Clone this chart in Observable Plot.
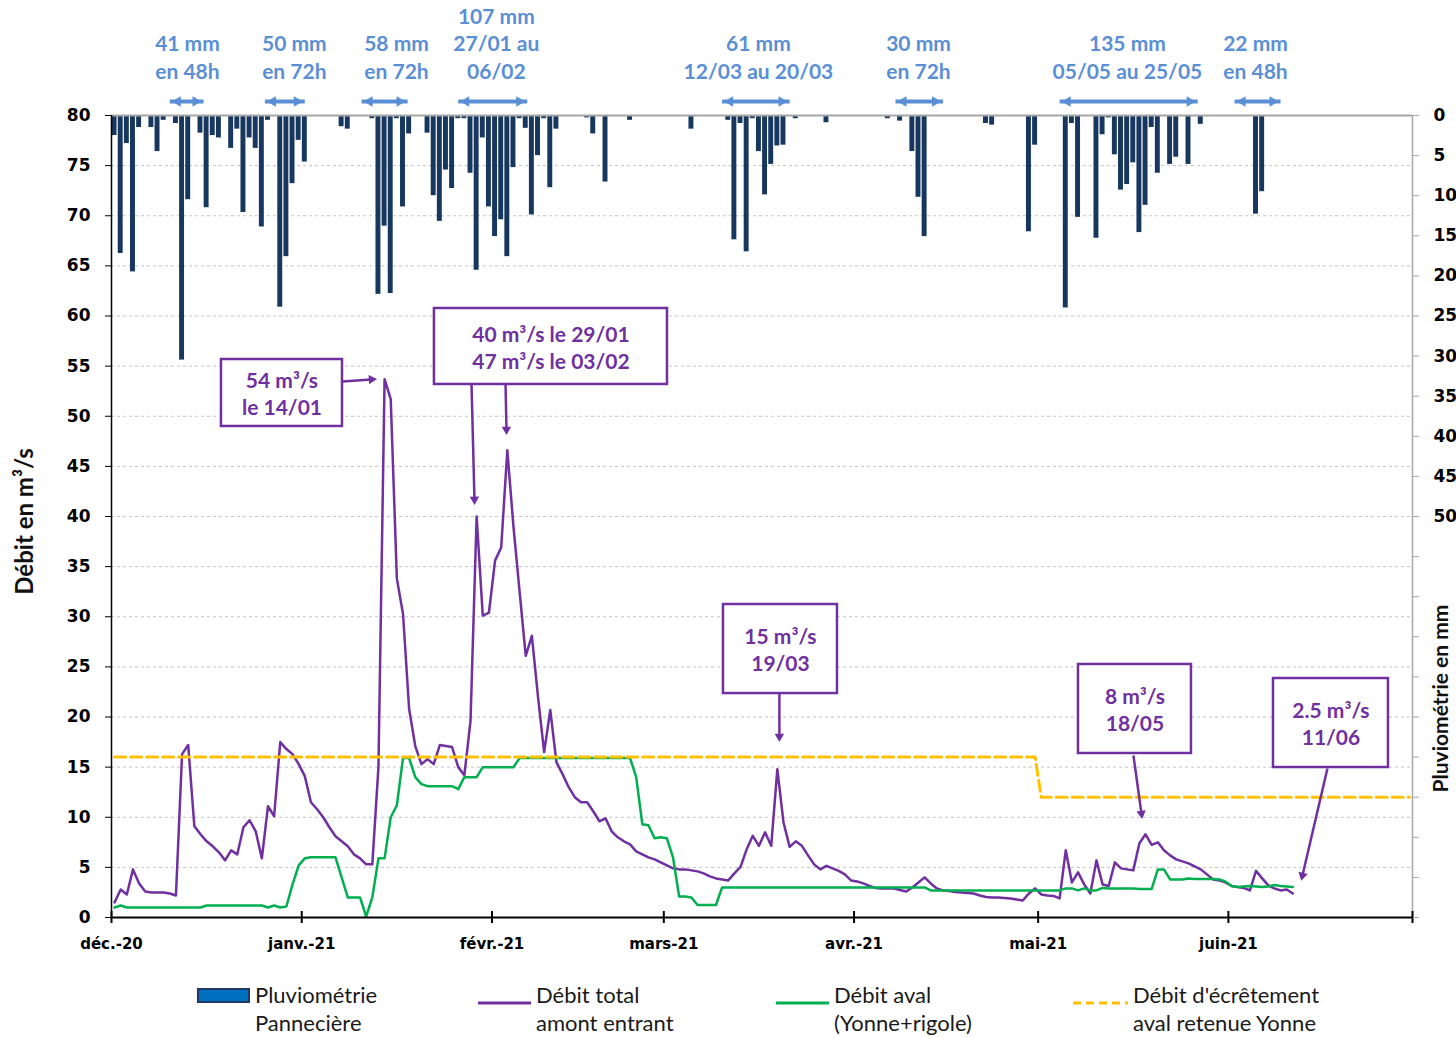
<!DOCTYPE html>
<html lang="fr">
<head>
<meta charset="utf-8">
<script src="https://cdn.jsdelivr.net/npm/d3@7"></script>
<script src="https://cdn.jsdelivr.net/npm/@observablehq/plot@0.6"></script>
<style>
  html, body { margin: 0; padding: 0; background: #fff; }
  #wrap { position: relative; width: 1456px; height: 1038px; overflow: hidden; font-family: Lato, "Open Sans", sans-serif; }
  #chart { position: absolute; left: 0; top: 0; }
  .lg-text { position: absolute; top: 981px; font-size: 22px; line-height: 28px; color: #1a1a1a; white-space: pre; }
  .lg-sw { position: absolute; display: block; }
</style>
</head>
<body>
<div id="wrap">
  <div id="chart"></div>
  <div id="legend"></div>
</div>
<script>
// ---------------- DATA ----------------
// Daily rainfall at Pannecière (mm)
const rainDates = [
  "2020-12-01","2020-12-02","2020-12-03","2020-12-04","2020-12-05","2020-12-07","2020-12-08","2020-12-09",
  "2020-12-11","2020-12-12","2020-12-13","2020-12-15","2020-12-16","2020-12-17","2020-12-18","2020-12-20",
  "2020-12-21","2020-12-22","2020-12-23","2020-12-24","2020-12-25","2020-12-26","2020-12-28","2020-12-29",
  "2020-12-30","2020-12-31","2021-01-01","2021-01-07","2021-01-08","2021-01-12","2021-01-13","2021-01-14",
  "2021-01-15","2021-01-16","2021-01-17","2021-01-18","2021-01-21","2021-01-22","2021-01-23","2021-01-24",
  "2021-01-25","2021-01-26","2021-01-27","2021-01-28","2021-01-29","2021-01-30","2021-01-31","2021-02-01",
  "2021-02-02","2021-02-03","2021-02-04","2021-02-05","2021-02-06","2021-02-07","2021-02-08","2021-02-09",
  "2021-02-10","2021-02-11","2021-02-16","2021-02-17","2021-02-19","2021-02-23","2021-03-05","2021-03-11",
  "2021-03-12","2021-03-13","2021-03-14","2021-03-15","2021-03-16","2021-03-17","2021-03-18","2021-03-19",
  "2021-03-20","2021-03-22","2021-03-27","2021-04-06","2021-04-08","2021-04-10","2021-04-11","2021-04-12",
  "2021-04-22","2021-04-23","2021-04-29","2021-04-30","2021-05-05","2021-05-06","2021-05-07","2021-05-10",
  "2021-05-11","2021-05-12","2021-05-13","2021-05-14","2021-05-15","2021-05-16","2021-05-17","2021-05-18",
  "2021-05-19","2021-05-20","2021-05-22","2021-05-23","2021-05-25","2021-05-27","2021-06-05","2021-06-06"
];
const rainMm = [
  2.5, 17.2, 3.5, 19.5, 1.5, 1.5, 4.5, 0.6,
  1.0, 30.5, 10.5, 2.2, 11.5, 2.5, 2.8, 4.1,
  1.7, 12.1, 2.8, 4.1, 13.9, 0.6, 23.9, 17.6,
  8.5, 3.1, 5.8, 1.4, 1.7, 0.4, 22.3, 13.8,
  22.2, 0.4, 11.4, 2.3, 2.2, 10.0, 13.2, 6.8,
  9.1, 0.4, 0.4, 7.2, 19.3, 2.8, 11.4, 15.1,
  13.0, 17.6, 6.5, 0.4, 1.6, 12.4, 5.0, 0.4,
  9.0, 1.7, 0.3, 2.3, 8.3, 0.6, 1.7, 0.6,
  15.5, 1.0, 17.0, 0.4, 4.5, 9.9, 6.1, 3.8,
  3.7, 0.4, 0.9, 0.4, 0.7, 4.5, 10.2, 15.1,
  1.0, 1.2, 14.5, 3.7, 24.0, 1.0, 12.7, 15.3,
  2.4, 0.3, 4.9, 9.3, 8.6, 5.9, 14.6, 11.2,
  1.5, 7.2, 6.1, 5.2, 6.1, 1.1, 12.3, 9.5
];

// Daily flows (m3/s), one value per day from flowStart
const flowStart = "2020-12-01";
const debitTotal = [
  1.5, 2.8, 2.3, 4.8, 3.4, 2.6, 2.5, 2.5, 2.5, 2.4,
  2.2, 16.3, 17.2, 9.1, 8.3, 7.6, 7.1, 6.5, 5.7, 6.7,
  6.3, 9.0, 9.7, 8.6, 5.9, 11.1, 10.1, 17.5, 16.8, 16.3,
  15.3, 14.1, 11.5, 10.8, 10.0, 9.0, 8.1, 7.6, 7.1, 6.3,
  5.9, 5.3, 5.3, 15.0, 53.7, 51.7, 33.8, 30.3, 20.8, 17.1,
  15.3, 15.8, 15.3, 17.2, 17.1, 17.0, 15.0, 14.2, 19.6, 40.0,
  30.1, 30.4, 35.6, 36.9, 46.6, 39.0, 32.5, 26.1, 28.1, 22.0,
  16.5, 20.7, 15.5, 14.3, 13.0, 12.0, 11.5, 11.5, 10.6, 9.6,
  9.9, 8.6, 8.0, 7.6, 7.3, 6.6, 6.3, 6.0, 5.8, 5.5,
  5.2, 4.9, 4.8, 4.8, 4.7, 4.6, 4.4, 4.1, 3.9, 3.8,
  3.7, 4.4, 5.05, 6.8, 8.15, 7.15, 8.5, 7.15, 14.8, 9.5,
  7.05, 7.6, 7.15, 6.2, 5.3, 4.8, 5.15, 4.9, 4.65, 4.3,
  3.7, 3.6, 3.4, 3.15, 2.95, 2.9, 2.9, 2.9, 2.75, 2.6,
  3.0, 3.5, 4.0, 3.4, 2.9, 2.7, 2.65, 2.55, 2.5, 2.45,
  2.4, 2.2, 2.05, 2.0, 2.0, 1.95, 1.9, 1.8, 1.7, 2.4,
  2.9, 2.3, 2.2, 2.15, 1.9, 6.7, 3.5, 4.5, 3.3, 2.4,
  5.7, 3.3, 3.15, 5.5, 4.9, 4.8, 4.7, 7.4, 8.3, 7.25,
  7.5, 6.7, 6.2, 5.8, 5.6, 5.4, 5.1, 4.8, 4.3, 3.8,
  3.7, 3.5, 3.15, 3.05, 2.95, 2.7, 4.65, 3.9, 3.2, 2.9,
  2.7, 2.8, 2.4
];
const debitAval = [
  1.0, 1.2, 1.0, 1.0, 1.0, 1.0, 1.0, 1.0, 1.0, 1.0,
  1.0, 1.0, 1.0, 1.0, 1.0, 1.2, 1.2, 1.2, 1.2, 1.2,
  1.2, 1.2, 1.2, 1.2, 1.2, 1.0, 1.2, 1.0, 1.1, 3.3,
  5.2, 5.9, 6.0, 6.0, 6.0, 6.0, 6.0, 4.0, 2.0, 2.0,
  2.0, 0.1, 2.0, 5.9, 5.9, 10.0, 11.2, 15.9, 15.9, 14.0,
  13.3, 13.1, 13.1, 13.1, 13.1, 13.1, 12.8, 14.0, 14.0, 14.0,
  15.0, 15.0, 15.0, 15.0, 15.0, 15.0, 15.9, 15.9, 15.9, 15.9,
  15.9, 15.9, 15.9, 15.9, 15.9, 15.9, 15.9, 15.9, 15.9, 15.9,
  15.9, 15.9, 15.9, 15.9, 15.9, 14.0, 9.3, 9.2, 7.9, 8.0,
  7.9, 6.0, 2.1, 2.1, 2.0, 1.25, 1.25, 1.25, 1.25, 3.0,
  3.0, 3.0, 3.0, 3.0, 3.0, 3.0, 3.0, 3.0, 3.0, 3.0,
  3.0, 3.0, 3.0, 3.0, 3.0, 3.0, 3.0, 3.0, 3.0, 3.0,
  3.0, 3.0, 3.0, 3.0, 3.0, 3.0, 3.0, 3.0, 3.0, 3.0,
  3.0, 3.0, 3.0, 2.7, 2.7, 2.7, 2.7, 2.7, 2.7, 2.7,
  2.7, 2.7, 2.7, 2.7, 2.7, 2.7, 2.7, 2.7, 2.7, 2.7,
  2.7, 2.7, 2.7, 2.7, 2.7, 2.9, 2.9, 2.7, 2.9, 2.7,
  2.7, 2.95, 2.9, 2.9, 2.9, 2.9, 2.9, 2.85, 2.85, 2.85,
  4.8, 4.8, 3.8, 3.8, 3.8, 3.9, 3.85, 3.85, 3.85, 3.85,
  3.8, 3.6, 3.15, 3.05, 3.1, 3.15, 3.1, 3.05, 3.1, 3.25,
  3.15, 3.1, 3.05
];

// Peak-shaving threshold downstream of the Yonne reservoir (m3/s)
const ecretDates  = ["2020-12-01", "2021-04-30", "2021-05-01", "2021-06-30"];
const ecretValues = [16, 16, 12, 12];

// Axes
const monthTicks  = ["2020-12-01","2021-01-01","2021-02-01","2021-03-01","2021-04-01","2021-05-01","2021-06-01","2021-07-01"];
const monthLabels = ["déc.-20","janv.-21","févr.-21","mars-21","avr.-21","mai-21","juin-21",""];
const debitTicks  = [0,5,10,15,20,25,30,35,40,45,50,55,60,65,70,75,80];
const pluvioTicks = [0,5,10,15,20,25,30,35,40,45,50,55,60,65,70,75,80,85,90,95,100];
const pluvioLabelMax = 50;
const pluvioMax = 100;

// Rain-episode notes (top) : label, arrow start / end, label centre
const rainNotes = [
  {label: "41 mm\nen 48h",              start: "2020-12-10T12:00", end: "2020-12-16T00:00", labelAt: "2020-12-13T09:00"},
  {label: "50 mm\nen 72h",              start: "2020-12-26T00:00", end: "2021-01-01T12:00", labelAt: "2020-12-30T19:00"},
  {label: "58 mm\nen 72h",              start: "2021-01-10T18:00", end: "2021-01-18T06:00", labelAt: "2021-01-16T10:30"},
  {label: "107 mm\n27/01 au\n06/02",    start: "2021-01-26T12:00", end: "2021-02-06T18:00", labelAt: "2021-02-01T17:00"},
  {label: "61 mm\n12/03 au 20/03",      start: "2021-03-10T12:00", end: "2021-03-21T12:00", labelAt: "2021-03-16T10:00"},
  {label: "30 mm\nen 72h",              start: "2021-04-07T18:00", end: "2021-04-15T12:00", labelAt: "2021-04-11T12:00"},
  {label: "135 mm\n05/05 au 25/05",     start: "2021-05-04T12:00", end: "2021-05-27T00:00", labelAt: "2021-05-15T13:00"},
  {label: "22 mm\nen 48h",              start: "2021-06-02T00:00", end: "2021-06-09T12:00", labelAt: "2021-06-05T10:00"}
];

// Peak-flow callouts : label and box extent (date range, flow range)
const peakNotes = [
  {label: "54 m³/s\nle 14/01",                    x1: "2020-12-18T22:00", x2: "2021-01-07T15:20", y1: 48.98, y2: 55.66},
  {label: "40 m³/s le 29/01\n47 m³/s le 03/02",   x1: "2021-01-22T15:00", x2: "2021-03-01T14:20", y1: 53.17, y2: 60.75},
  {label: "15 m³/s\n19/03",                       x1: "2021-03-10T17:20", x2: "2021-03-29T07:10", y1: 22.34, y2: 31.22},
  {label: "8 m³/s\n18/05",                        x1: "2021-05-07T13:40", x2: "2021-05-25T23:30", y1: 16.36, y2: 25.24},
  {label: "2.5 m³/s\n11/06",                      x1: "2021-06-08T08:20", x2: "2021-06-27T02:00", y1: 14.96, y2: 23.84}
];
const peakArrows = [
  {x1: "2021-01-07T15:20", y1: 53.47, x2: "2021-01-12T09:00", y2: 53.67},
  {x1: "2021-01-28T16:00", y1: 53.17, x2: "2021-01-29T03:30", y2: 41.7},
  {x1: "2021-02-03T05:00", y1: 53.17, x2: "2021-02-03T08:40", y2: 48.68},
  {x1: "2021-03-19T20:00", y1: 22.34, x2: "2021-03-19T20:00", y2: 18.05},
  {x1: "2021-05-16T12:40", y1: 16.16, x2: "2021-05-17T20:00", y2: 10.37},
  {x1: "2021-06-17T03:20", y1: 14.86, x2: "2021-06-13T01:40", y2: 4.19}
];

// Legend
const legendLabels = ["Pluviométrie\nPannecière", "Débit total\namont entrant", "Débit aval\n(Yonne+rigole)", "Débit d'écrêtement\naval retenue Yonne"];

// ---------------- HELPERS ----------------
const utc = s => new Date(s.length === 10 ? s + "T00:00:00Z" : s + ":00Z");
const mid = d => d3.utcHour.offset(d, 12);
const yTop = debitTicks[debitTicks.length - 1];
const mmToY = mm => yTop - mm * yTop / pluvioMax;

const C = {purple: "#7030A0", green: "#00B050", orange: "#FFC000", blue: "#5a8fd6", bar: "#17375E"};

const W = 1456, H = 960, mL = 111, mR = 44, mT = 115, mB = 43;
const xDomain = [utc(monthTicks[0]), utc(monthTicks[monthTicks.length - 1])];

const rainRows = rainDates.map((s, i) => ({start: utc(s), end: d3.utcDay.offset(utc(s), 1), mm: rainMm[i]}));
const flowRows = debitTotal.map((v, i) => ({date: mid(d3.utcDay.offset(utc(flowStart), i)), total: v, aval: debitAval[i]}));
const ecretRows = ecretDates.map((s, i) => ({date: mid(utc(s)), value: ecretValues[i]}));
const noteRows = rainNotes.map(d => ({label: d.label, start: utc(d.start), end: utc(d.end), center: utc(d.labelAt)}));
const boxRows = peakNotes.map(d => ({label: d.label, x1: utc(d.x1), x2: utc(d.x2), y1: d.y1, y2: d.y2,
  cx: new Date((+utc(d.x1) + +utc(d.x2)) / 2), cy: (d.y1 + d.y2) / 2}));

const sx = Plot.scale({x: {type: "utc", domain: xDomain, range: [mL, W - mR]}});
const sy = Plot.scale({y: {type: "linear", domain: [0, yTop], range: [H - mB, mT]}});
const arrowRows = peakArrows.map(d => {
  const a = {x1: utc(d.x1), y1: d.y1, x2: utc(d.x2), y2: d.y2};
  const dx = sx.apply(a.x2) - sx.apply(a.x1), dy = sy.apply(a.y2) - sy.apply(a.y1);
  a.angle = Math.atan2(dx, -dy) * 180 / Math.PI;
  return a;
});

const monthLabelMap = new Map(monthTicks.map((s, i) => [+utc(s), monthLabels[i]]));
const pluvioLabelMap = new Map(pluvioTicks.map(mm => [mmToY(mm).toFixed(3), mm <= pluvioLabelMax ? String(mm) : ""]));
const noteArrowY = yTop + 1.4;

// ---------------- CHART ----------------
const chart = Plot.plot({
  width: W, height: H,
  marginLeft: mL, marginRight: mR, marginTop: mT, marginBottom: mB,
  style: {fontFamily: "Lato, sans-serif", fontSize: "21px", background: "transparent", overflow: "visible", color: "#000"},
  x: {type: "utc", domain: xDomain},
  y: {type: "linear", domain: [0, yTop]},
  marks: [
    Plot.gridY(debitTicks.filter(v => v > 0 && v < yTop), {stroke: "#c4c4c4", strokeOpacity: 1, strokeDasharray: "3,3", strokeWidth: 1}),
    Plot.rect(rainRows, {x1: "start", x2: "end", y1: yTop, y2: d => mmToY(d.mm), fill: C.bar, insetLeft: 0.6, insetRight: 0.6}),
    Plot.ruleY([yTop], {stroke: "#a6a6a6", strokeWidth: 2}),
    Plot.line(flowRows, {x: "date", y: "total", stroke: C.purple, strokeWidth: 2.5}),
    Plot.line(flowRows, {x: "date", y: "aval", stroke: C.green, strokeWidth: 2.5}),
    Plot.line(ecretRows, {x: "date", y: "value", stroke: C.orange, strokeWidth: 3, strokeDasharray: "11,5"}),

    // axis lines
    Plot.ruleX([xDomain[0]], {stroke: "#000", strokeWidth: 1.5}),
    Plot.ruleX([xDomain[1]], {stroke: "#a6a6a6", strokeWidth: 1.5}),
    Plot.ruleY([0], {stroke: "#000", strokeWidth: 2}),
    Plot.ruleX(monthTicks.map(utc), {x: d => d, y1: 0, y2: 0, insetTop: -6, insetBottom: -6, stroke: "#000", strokeWidth: 2}),

    // left axis
    Plot.axisY(debitTicks, {anchor: "left", label: null, tickSize: 6, tickPadding: 15, stroke: "#000", fill: "#000",
      fontFamily: "DejaVu Sans", fontWeight: "bold", fontSize: 17}),
    // right axis (rainfall, reversed, in mm)
    Plot.axisY(pluvioTicks.map(mmToY), {anchor: "right", label: null, tickSize: 6, tickPadding: 15, stroke: "#a6a6a6", fill: "#000",
      tickFormat: v => pluvioLabelMap.get(v.toFixed(3)) ?? "", fontFamily: "DejaVu Sans", fontWeight: "bold", fontSize: 17}),
    // bottom axis labels
    Plot.axisX(monthTicks.map(utc), {anchor: "bottom", label: null, tickSize: 0, tickPadding: 21, fill: "#000",
      tickFormat: d => monthLabelMap.get(+d) ?? "", fontFamily: "DejaVu Sans", fontWeight: "bold", fontSize: 15}),

    // axis titles
    Plot.text(["Débit en m³/s"], {text: d => d, frameAnchor: "left", textAnchor: "middle", dx: -86, dy: 5, rotate: -90,
      fontWeight: "bold", fontSize: 24, fill: "#111"}),
    Plot.text(["Pluviométrie en mm"], {text: d => d, frameAnchor: "right", textAnchor: "middle", dx: 29, dy: 182, rotate: -90,
      fontWeight: "bold", fontSize: 21, fill: "#111"}),

    // rain-episode notes
    Plot.link(noteRows, {x1: "start", x2: "end", y1: noteArrowY, y2: noteArrowY, stroke: C.blue, strokeWidth: 4}),
    Plot.dot(noteRows, {x: "start", y: noteArrowY, symbol: "triangle2", r: 5, rotate: -90, fill: C.blue, stroke: "none", dx: 8}),
    Plot.dot(noteRows, {x: "end", y: noteArrowY, symbol: "triangle2", r: 5, rotate: 90, fill: C.blue, stroke: "none", dx: -8}),
    Plot.text(noteRows, {x: "center", frameAnchor: "top", dy: -37, text: "label", lineAnchor: "bottom", lineHeight: 1.29,
      fill: C.blue, fontWeight: "bold", fontSize: 21}),

    // peak callouts
    Plot.link(arrowRows, {x1: "x1", y1: "y1", x2: "x2", y2: "y2", stroke: C.purple, strokeWidth: 2.5}),
    Plot.dot(arrowRows, {x: "x2", y: "y2", symbol: "triangle2", r: 4.5, rotate: "angle", fill: C.purple, stroke: "none"}),
    Plot.rect(boxRows, {x1: "x1", x2: "x2", y1: "y1", y2: "y2", fill: "white", stroke: C.purple, strokeWidth: 2.5}),
    Plot.text(boxRows, {x: "cx", y: "cy", text: "label", lineAnchor: "middle", lineHeight: 1.29,
      fill: C.purple, fontWeight: "bold", fontSize: 21})
  ]
});
document.getElementById("chart").appendChild(chart);

// ---------------- LEGEND ----------------
const legendSwatchLeft = [197, 478, 776, 1073];
const legendTextLeft = [255, 536, 834, 1133];
const swatches = [
  `<svg width="53" height="16"><rect x="1" y="1" width="51" height="13" fill="#0070C0" stroke="#1F3864" stroke-width="2"/></svg>`,
  `<svg width="53" height="8"><line x1="0" x2="53" y1="4" y2="4" stroke="${C.purple}" stroke-width="3"/></svg>`,
  `<svg width="53" height="8"><line x1="0" x2="53" y1="4" y2="4" stroke="${C.green}" stroke-width="3"/></svg>`,
  `<svg width="55" height="8"><line x1="0" x2="55" y1="4" y2="4" stroke="${C.orange}" stroke-width="3" stroke-dasharray="8,5"/></svg>`
];
const legend = document.getElementById("legend");
legendLabels.forEach((lab, i) => {
  const sw = document.createElement("div");
  sw.className = "lg-sw";
  sw.style.left = legendSwatchLeft[i] + "px";
  sw.style.top = (i === 0 ? 988 : 991) + "px";
  sw.innerHTML = swatches[i];
  legend.appendChild(sw);
  const t = document.createElement("div");
  t.className = "lg-text";
  t.style.left = legendTextLeft[i] + "px";
  t.textContent = lab;
  legend.appendChild(t);
});
</script>
</body>
</html>
